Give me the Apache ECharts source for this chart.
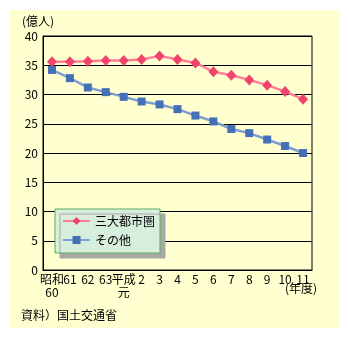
<!DOCTYPE html>
<html><head><meta charset="utf-8">
<script src="https://cdn.jsdelivr.net/npm/echarts@6/dist/echarts.min.js"></script>
<style>html,body{margin:0;padding:0;background:#fff}#c{width:349px;height:339px}</style>
</head><body><div id="c"></div>
<script>
const categories = ['昭和\n60','61','62','63','平成\n元','2','3','4','5','6','7','8','9','10','11'];
const metroValues = [35.6,35.6,35.7,35.8,35.8,36.0,36.6,36.0,35.4,33.9,33.3,32.5,31.6,30.5,29.2];
const otherValues = [34.2,32.8,31.2,30.4,29.6,28.8,28.3,27.5,26.4,25.4,24.1,23.4,22.3,21.2,20.0];
const seriesNames = ['三大都市圏','その他'];
const yTicks = {min:0, max:40, interval:5};

const FONT = '"Noto Sans CJK JP", "Noto Sans", sans-serif';
const chart = echarts.init(document.getElementById('c'), null, {renderer:'canvas'});
chart.setOption({
  animation:false,
  backgroundColor:'#ffffff',
  textStyle:{fontFamily:FONT, color:'#000'},
  graphic:[
    {type:'rect', z:-10, shape:{x:10,y:10,width:329,height:318}, style:{fill:'#FFFFD0'}, silent:true},
    {type:'text', left:22, top:15, style:{text:'(億人)', font:'12px '+FONT, fill:'#000'}},
    {type:'text', left:285, top:282, style:{text:'(年度)', font:'12px '+FONT, fill:'#000'}},
    {type:'text', left:21, top:309, style:{text:'資料）国土交通省', font:'12px '+FONT, fill:'#000'}}
  ],
  grid:{left:43, right:37, top:36, bottom:69, show:true, borderColor:'#000', borderWidth:1, backgroundColor:'transparent'},
  legend:{
    orient:'vertical', left:55, top:209,
    data:seriesNames,
    backgroundColor:'#D8EEDC', borderColor:'#5AAE5A', borderWidth:1,
    shadowColor:'#A8A8A8', shadowOffsetX:5, shadowOffsetY:5, shadowBlur:0,
    padding:[6,5,7,7], itemWidth:27, itemHeight:10, itemGap:7, itemSymbolKeepAspect:true,
    textStyle:{fontSize:12, color:'#000', fontFamily:FONT}
  },
  xAxis:{
    type:'category', data:categories, boundaryGap:true,
    axisLine:{lineStyle:{color:'#000', width:1}},
    axisTick:{inside:true, length:5, lineStyle:{color:'#000'}},
    axisLabel:{interval:0, margin:3, fontSize:12, color:'#000', lineHeight:13, fontFamily:FONT}
  },
  yAxis:{
    type:'value', min:yTicks.min, max:yTicks.max, interval:yTicks.interval,
    axisLine:{show:true, lineStyle:{color:'#000'}},
    axisTick:{show:false},
    splitLine:{lineStyle:{color:'#000', width:1}},
    axisLabel:{fontSize:12, color:'#000', margin:5, fontFamily:FONT}
  },
  series:[
    {name:seriesNames[0], type:'line', data:metroValues, symbol:'diamond', symbolSize:[10,11],
     lineStyle:{color:'#FF7F96', width:2.5}, itemStyle:{color:'#F2436C'}},
    {name:seriesNames[1], type:'line', data:otherValues, symbol:'rect', symbolSize:8,
     lineStyle:{color:'#7E9DD3', width:2.5}, itemStyle:{color:'#4470B6'}}
  ]
});
</script></body></html>
